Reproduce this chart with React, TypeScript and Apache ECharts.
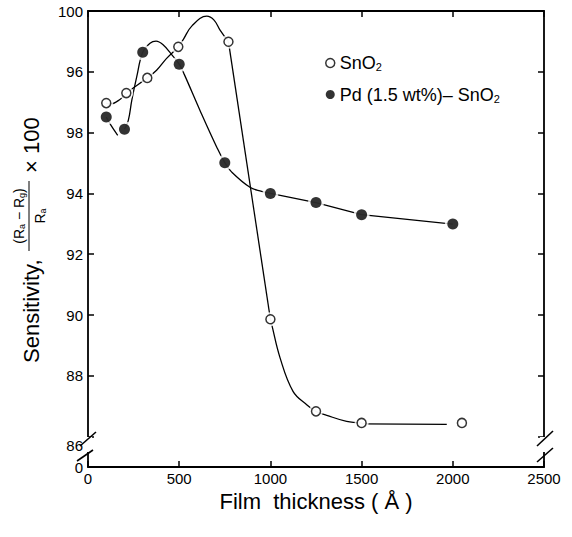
import React, { useEffect, useRef } from "react";
import * as echarts from "echarts";

// ---- data ----
const SN_NAME = "SnO2";
const PD_NAME = "Pd (1.5 wt%)– SnO2";

const snThickness = [100, 210, 325, 495, 770, 1000, 1250, 1500, 2050];
const snSensitivity = [96.97, 97.3, 97.8, 98.82, 98.99, 89.86, 86.83, 86.45, 86.45];

const pdThickness = [100, 200, 300, 500, 750, 1000, 1250, 1500, 2000];
const pdSensitivity = [96.51, 96.11, 98.64, 98.25, 95.01, 94.0, 93.7, 93.3, 92.99];

// hand-drawn guide curves
const snCurveTop = [
  [100, 96.97], [121, 96.94], [175, 97.09], [210, 97.3], [325, 97.8], [376, 98.05],
  [431, 98.44], [495, 98.82], [522, 99.06], [570, 99.51], [651, 99.83], [691, 99.7],
  [724, 99.37], [770, 98.99],
];
const snDrop = [[770, 98.99], [1000, 89.86]];
const snCurveBottom = [
  [1000, 89.86], [1007, 89.69], [1053, 88.59], [1124, 87.49], [1199, 87.05], [1250, 86.83],
  [1309, 86.7], [1418, 86.5], [1500, 86.45],
];
const snTail = [[1500, 86.42], [1967, 86.4]];

const pdCurveStart = [[100, 96.51], [121, 96.29], [163, 95.91]];
const pdCurveMain = [
  [200, 96.11], [221, 96.4], [240, 97.06], [267, 97.83], [300, 98.64], [340, 98.94],
  [373, 99.01], [413, 98.88], [461, 98.55], [500, 98.25], [526, 97.94], [614, 96.73],
  [706, 95.52], [750, 95.01], [788, 94.7], [888, 94.2], [952, 94.07], [1000, 94.0],
];
const pdTail = [[1000, 94.0], [1250, 93.7], [1500, 93.3], [2000, 92.99]];

// axes
const xMin = 0;
const xMax = 2500;
const xStep = 500;
const yMin = 85;
const yMax = 100;
const yTickValues = [86, 88, 90, 92, 94, 96, 98, 100];
const yLabelValues = [85, 85.7, 88, 90, 92, 94, 96, 98, 100];
const yLabelTexts = ["0", "86", "88", "90", "92", "94", "98", "96", "100"];

const FONT = '"Liberation Sans", Arial, Helvetica, sans-serif';

function zip(xs: number[], ys: number[]) {
  return xs.map((x, i) => [x, ys[i]]);
}

export default function App() {
  const ref = useRef<HTMLDivElement>(null);

  useEffect(() => {
    if (!ref.current) return;
    const chart = echarts.init(ref.current, null, { renderer: "svg" });

    const snPoints = zip(snThickness, snSensitivity);
    const pdPoints = zip(pdThickness, pdSensitivity);

    const lineBase = {
      type: "line",
      symbol: "none",
      showSymbol: false,
      silent: true,
      lineStyle: { color: "#000", width: 1.3 },
      z: 2,
    };

    const axisLineStyle = { lineStyle: { color: "#000", width: 1.8 } };
    const tickStyle = { lineStyle: { color: "#000", width: 1.5 } };
    const subRich = { fontSize: 9, fontFamily: FONT, fill: "#000", verticalAlign: "bottom", padding: [6, 0, 0, 0] };

    chart.setOption({
      animation: false,
      backgroundColor: "#fff",
      grid: { left: 88, right: 28, top: 11, bottom: 70 },
      xAxis: [
        {
          type: "value",
          min: xMin,
          max: xMax,
          interval: xStep,
          position: "bottom",
          axisLine: { show: true, onZero: false, ...axisLineStyle },
          axisTick: { show: true, inside: true, length: 6, ...tickStyle },
          axisLabel: {
            fontSize: 15,
            fontFamily: FONT,
            color: "#000",
            margin: 4,
            formatter: (v: number) => String(v),
          },
          splitLine: { show: false },
          name: "Film  thickness ( Å )",
          nameLocation: "middle",
          nameGap: 20,
          nameTextStyle: { fontSize: 22, fontFamily: FONT, color: "#000" },
        },
        {
          type: "value",
          min: xMin,
          max: xMax,
          interval: xStep,
          position: "top",
          axisLine: { show: true, onZero: false, ...axisLineStyle },
          axisTick: { show: true, inside: true, length: 6, ...tickStyle },
          axisLabel: { show: false },
          splitLine: { show: false },
        },
      ],
      yAxis: [
        {
          type: "value",
          min: yMin,
          max: yMax,
          position: "left",
          axisLine: { show: true, onZero: false, ...axisLineStyle },
          axisTick: { show: true, inside: true, length: 6, customValues: yTickValues, ...tickStyle },
          axisLabel: {
            customValues: yLabelValues,
            fontSize: 15,
            fontFamily: FONT,
            color: "#000",
            margin: 5,
            formatter: (v: number) => {
              const i = yLabelValues.findIndex((t) => Math.abs(t - v) < 1e-6);
              return i >= 0 ? yLabelTexts[i] : "";
            },
          },
          splitLine: { show: false },
        },
        {
          type: "value",
          min: yMin,
          max: yMax,
          position: "right",
          axisLine: { show: true, onZero: false, ...axisLineStyle },
          axisTick: { show: true, inside: true, length: 6, customValues: yTickValues, ...tickStyle },
          axisLabel: { show: false },
          splitLine: { show: false },
        },
      ],
      legend: {
        orient: "vertical",
        left: 320,
        top: 49,
        itemGap: 13,
        itemWidth: 9,
        itemHeight: 9,
        data: [
          { name: SN_NAME, icon: "circle", itemStyle: { color: "#fff", borderColor: "#000", borderWidth: 1.5 } },
          { name: PD_NAME, icon: "circle", itemStyle: { color: "#000", borderWidth: 0 } },
        ],
        formatter: (name: string) => (name === SN_NAME ? "SnO{s|2}" : "Pd (1.5 wt%)– SnO{s|2}"),
        textStyle: {
          fontSize: 18,
          fontFamily: FONT,
          color: "#000",
          rich: {
            s: { fontSize: 11, fontFamily: FONT, color: "#000", verticalAlign: "bottom", padding: [8, 0, 0, 0] },
          },
        },
      },
      series: [
        { ...lineBase, data: snCurveTop, smooth: 0.4 },
        { ...lineBase, data: snDrop, smooth: false },
        { ...lineBase, data: snCurveBottom, smooth: 0.4 },
        { ...lineBase, data: snTail, smooth: false },
        { ...lineBase, data: pdCurveStart, smooth: 0.4 },
        { ...lineBase, data: pdCurveMain, smooth: 0.4 },
        { ...lineBase, data: pdTail, smooth: false },
        {
          type: "scatter",
          data: snPoints,
          symbol: "circle",
          symbolSize: 14,
          itemStyle: { color: "#fff" },
          silent: true,
          z: 3,
        },
        {
          type: "scatter",
          data: pdPoints,
          symbol: "circle",
          symbolSize: 16,
          itemStyle: { color: "#fff" },
          silent: true,
          z: 3,
        },
        {
          type: "scatter",
          name: SN_NAME,
          data: snPoints,
          symbol: "circle",
          symbolSize: 9,
          itemStyle: { color: "#fff", borderColor: "#000", borderWidth: 1.5 },
          z: 4,
        },
        {
          type: "scatter",
          name: PD_NAME,
          data: pdPoints,
          symbol: "circle",
          symbolSize: 11,
          itemStyle: { color: "#000" },
          z: 4,
        },
      ],
      graphic: [
        // y-axis title
        {
          type: "group",
          x: 39,
          y: 363,
          rotation: Math.PI / 2,
          z: 10,
          children: [
            {
              type: "text",
              x: 0,
              y: -8,
              style: { text: "Sensitivity,", fontSize: 22, fontFamily: FONT, fill: "#000", align: "left", verticalAlign: "middle" },
            },
            {
              type: "text",
              x: 147,
              y: -20,
              style: {
                text: "(R{s|a} − R{s|g})",
                fontSize: 14,
                fontFamily: FONT,
                fill: "#000",
                align: "center",
                verticalAlign: "middle",
                rich: { s: subRich },
              },
            },
            { type: "line", shape: { x1: 112, y1: -10, x2: 182, y2: -10 }, style: { stroke: "#000", lineWidth: 1 } },
            {
              type: "text",
              x: 147,
              y: 1,
              style: {
                text: "R{s|a}",
                fontSize: 14,
                fontFamily: FONT,
                fill: "#000",
                align: "center",
                verticalAlign: "middle",
                rich: { s: subRich },
              },
            },
            {
              type: "text",
              x: 190,
              y: -8,
              style: { text: "× 100", fontSize: 22, fontFamily: FONT, fill: "#000", align: "left", verticalAlign: "middle" },
            },
          ],
        },
        // axis breaks (left)
        { type: "rect", shape: { x: 84, y: 437, width: 8, height: 15 }, style: { fill: "#fff" }, z: 20 },
        { type: "line", shape: { x1: 80, y1: 446, x2: 96, y2: 432 }, style: { stroke: "#000", lineWidth: 1.6 }, z: 21 },
        { type: "line", shape: { x1: 77, y1: 461, x2: 93, y2: 450 }, style: { stroke: "#000", lineWidth: 1.6 }, z: 21 },
        // axis breaks (right)
        { type: "rect", shape: { x: 540, y: 437, width: 8, height: 15 }, style: { fill: "#fff" }, z: 20 },
        { type: "line", shape: { x1: 537, y1: 446, x2: 553, y2: 431 }, style: { stroke: "#000", lineWidth: 1.6 }, z: 21 },
        { type: "line", shape: { x1: 537, y1: 462, x2: 553, y2: 448 }, style: { stroke: "#000", lineWidth: 1.6 }, z: 21 },
      ],
    });

    return () => chart.dispose();
  }, []);

  return (
    <div
      ref={ref}
      style={{ position: "absolute", left: 0, top: 0, width: 572, height: 537, background: "#fff" }}
    />
  );
}
